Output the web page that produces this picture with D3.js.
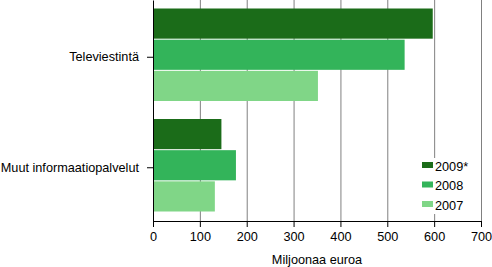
<!DOCTYPE html>
<html>
<head>
<meta charset="utf-8">
<script src="https://cdn.jsdelivr.net/npm/d3@7"></script>
<style>
  body { margin: 0; background: #fff; }
  text { font-family: "Liberation Sans", Arial, sans-serif; font-size: 12.7px; fill: #000; }
</style>
</head>
<body>
<script>
var width = 492,
    height = 267;

var categories = ["Televiestintä", "Muut informaatiopalvelut"];
var years = ["2009*", "2008", "2007"];
var values2009 = [597, 146];
var values2008 = [537, 177];
var values2007 = [352, 132];
var xTicks = [0, 100, 200, 300, 400, 500, 600, 700];
var colors = ["#1b6c19", "#33b45a", "#80d687"];

var series = [values2009, values2008, values2007];

var margin = {top: 0, left: 153, right: 11, bottom: 46};
var plotW = width - margin.left - margin.right,
    plotH = height - margin.top - margin.bottom;

var svg = d3.select("body").append("svg")
    .attr("width", width)
    .attr("height", height);

var g = svg.append("g")
    .attr("transform", "translate(" + margin.left + "," + margin.top + ")");

var x = d3.scaleLinear()
    .domain([0, 700])
    .range([0, plotW]);

var y = d3.scaleBand()
    .domain(categories)
    .range([0, plotH]);

var yInner = d3.scaleBand()
    .domain(years)
    .range([8.5, y.bandwidth() - 8.5]);

// gridlines
g.selectAll(".grid")
    .data(xTicks.slice(1))
    .enter()
    .append("line")
    .attr("x1", d => x(d) + 0.5)
    .attr("x2", d => x(d) + 0.5)
    .attr("y1", 0)
    .attr("y2", plotH)
    .attr("stroke", "#808080")
    .attr("stroke-width", 1);

// bars
categories.forEach(function(cat, ci) {
    g.selectAll(".bar" + ci)
        .data(years)
        .enter()
        .append("rect")
        .attr("x", 0)
        .attr("y", d => y(cat) + yInner(d))
        .attr("width", (d, i) => x(series[i][ci]))
        .attr("height", yInner.bandwidth() - 1)
        .attr("fill", (d, i) => colors[i]);
});

// x axis
var xAxis = g.append("g")
    .attr("transform", "translate(0," + plotH + ")")
    .call(d3.axisBottom(x).tickValues(xTicks).tickSize(6).tickSizeOuter(0));
xAxis.select(".domain").attr("stroke", "#000");
xAxis.selectAll("text").attr("dy", "0.9em").style("font-size", "12.7px");

// y axis
var yAxis = g.append("g")
    .call(d3.axisLeft(y).tickSize(6).tickSizeOuter(0).tickPadding(8));
yAxis.select(".domain").attr("stroke", "#000");
yAxis.selectAll(".tick").attr("transform", d => "translate(0," + (y(d) + y.bandwidth() / 2 + 2) + ")");
yAxis.selectAll("text").style("font-size", "12.7px");

// axis title, centred under the plot
svg.append("text")
    .attr("x", margin.left + plotW / 2)
    .attr("y", 264)
    .attr("text-anchor", "middle")
    .text("Miljoonaa euroa");

// legend
var legend = svg.append("g");
legend.append("rect")
    .attr("x", 418)
    .attr("y", 158)
    .attr("width", 52)
    .attr("height", 56)
    .attr("fill", "#fff");
var items = legend.selectAll(".item")
    .data(years)
    .enter()
    .append("g")
    .attr("transform", (d, i) => "translate(422," + (162 + i * 19.5) + ")");
items.append("rect")
    .attr("width", 11)
    .attr("height", 6)
    .attr("fill", (d, i) => colors[i]);
items.append("text")
    .attr("x", 13)
    .attr("y", 8.5)
    .text(d => d);
</script>
</body>
</html>
